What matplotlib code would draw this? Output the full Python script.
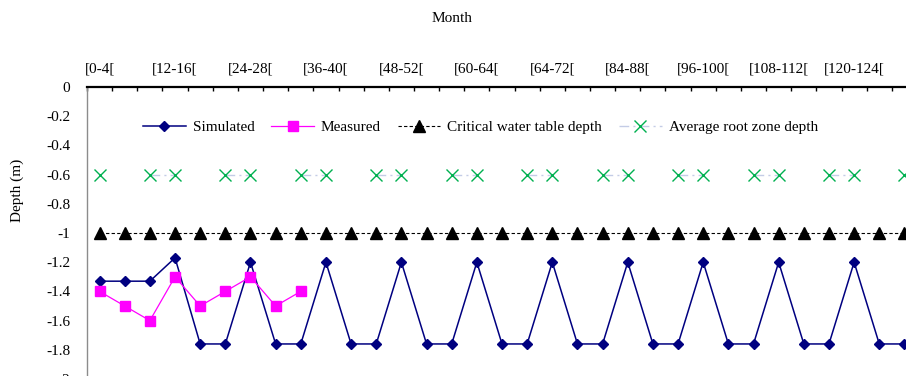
import numpy as np
import matplotlib
matplotlib.use("Agg")
import matplotlib.pyplot as plt

plt.rcParams['font.family'] = ['Liberation Serif', 'DejaVu Serif']

# 4-month intervals (as labelled on the chart)
intervals = ["[0-4[", "[4-8[", "[8-12[", "[12-16[", "[16-20[", "[20-24[",
             "[24-28[", "[28-32[", "[32-36[", "[36-40[", "[40-44[", "[44-48[",
             "[48-52[", "[52-56[", "[56-60[", "[60-64[", "[64-68[", "[68-72[",
             "[64-72[", "[76-80[", "[80-84[", "[84-88[", "[88-92[", "[92-96[",
             "[96-100[", "[100-104[", "[104-108[", "[108-112[", "[112-116[", "[116-120[",
             "[120-124[", "[124-128[", "[128-132["]

simulated = [-1.33, -1.33, -1.33, -1.17,
             -1.76, -1.76, -1.20, -1.76, -1.76, -1.20, -1.76, -1.76, -1.20,
             -1.76, -1.76, -1.20, -1.76, -1.76, -1.20, -1.76, -1.76, -1.20,
             -1.76, -1.76, -1.20, -1.76, -1.76, -1.20, -1.76, -1.76, -1.20,
             -1.76, -1.76]

measured = [-1.4, -1.5, -1.6, -1.3, -1.5, -1.4, -1.3, -1.5, -1.4]

critical = [-1.0, -1.0, -1.0, -1.0, -1.0, -1.0, -1.0, -1.0, -1.0, -1.0, -1.0,
            -1.0, -1.0, -1.0, -1.0, -1.0, -1.0, -1.0, -1.0, -1.0, -1.0, -1.0,
            -1.0, -1.0, -1.0, -1.0, -1.0, -1.0, -1.0, -1.0, -1.0, -1.0, -1.0]

nan = np.nan
root_zone = [-0.6, nan, -0.6, -0.6, nan, -0.6, -0.6, nan, -0.6, -0.6, nan,
             -0.6, -0.6, nan, -0.6, -0.6, nan, -0.6, -0.6, nan, -0.6, -0.6,
             nan, -0.6, -0.6, nan, -0.6, -0.6, nan, -0.6, -0.6, nan, -0.6]

y_ticks = [0, -0.2, -0.4, -0.6, -0.8, -1, -1.2, -1.4, -1.6, -1.8, -2]
y_tick_labels = ["0", "-0.2", "-0.4", "-0.6", "-0.8", "-1", "-1.2", "-1.4",
                 "-1.6", "-1.8", "-2"]

W, H, DPI = 906, 376, 100
fig = plt.figure(figsize=(W / DPI, H / DPI), dpi=DPI)
left, top, width, height = 87, 87, 830, 292
ax = fig.add_axes([left / W, 1 - (top + height) / H, width / W, height / H])

x = np.arange(len(intervals))

ax.plot(x, simulated, color="#000080", lw=1.1, marker="D", ms=5.4,
        label="Simulated", zorder=3)
ax.plot(x[:len(measured)], measured, color="#FF00FF", lw=0.9, marker="s",
        ms=7.5, label="Measured", zorder=4)
ax.plot(x, critical, color="black", lw=0.8, ls=(0, (3, 2)), marker="^",
        ms=8, label="Critical water table depth", zorder=3)
ax.plot(x, root_zone, color="#C4CCE6", lw=1.0, ls=(0, (7, 3, 1.5, 3)),
        marker="x", ms=8, mec="#00B050", mew=1.0,
        label="Average root zone depth", zorder=2)

ax.set_xlim(-0.5, len(intervals) - 0.5)
ax.set_ylim(-2, 0)

# category labels on top, every third interval
ax.xaxis.tick_top()
ax.set_xticks(x[::3])
ax.set_xticklabels(intervals[::3], fontsize=11)
ax.set_xticks(np.arange(-0.5, len(intervals) + 0.5, 1), minor=True)
ax.tick_params(axis="x", which="major", length=0, pad=8.5)
ax.tick_params(axis="x", which="minor", direction="in", length=3, width=1,
               top=True, bottom=False, color="black")

ax.set_yticks(y_ticks)
ax.set_yticklabels(y_tick_labels, fontsize=11)
ax.tick_params(axis="y", length=0, pad=12)

for s in ("right", "bottom"):
    ax.spines[s].set_visible(False)
ax.spines["top"].set_linewidth(1.6)
ax.spines["top"].set_color("black")
ax.spines["left"].set_color("#8C8C8C")
ax.spines["left"].set_linewidth(1.0)

fig.text(452 / W, 1 - 19 / H, "Month", ha="center", va="center", fontsize=11)
fig.text(17 / W, 1 - 190 / H, "Depth (m)", ha="center", va="center",
         rotation=90, fontsize=11)

ax.legend(loc="center left", bbox_to_anchor=((143 - left) / width, 1 - (127 - top) / height),
          ncol=4, frameon=False, fontsize=11, borderpad=0, borderaxespad=0,
          handlelength=2.8, handletextpad=0.45, columnspacing=1.1)

fig.savefig("out.png", dpi=DPI)
